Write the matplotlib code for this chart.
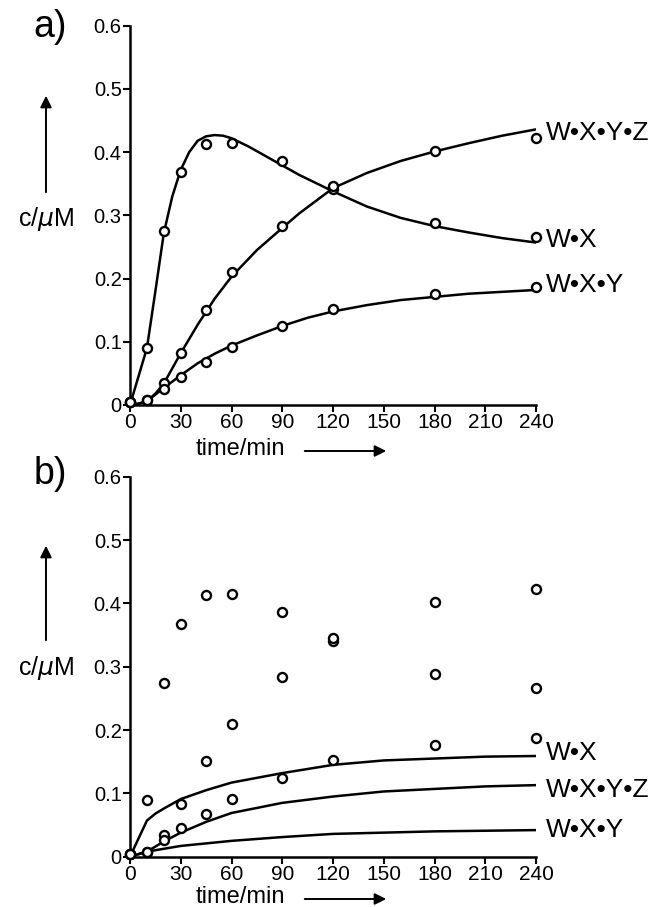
"""
Kinetics of W·X complex assembly: (a) measured points with fitted curves,
(b) the same measured points with the curves of a second model.
"""
import matplotlib
matplotlib.use('Agg')
import matplotlib.pyplot as plt

plt.rcParams.update({
    "font.family": ["Liberation Sans", "DejaVu Sans"],
    "axes.linewidth": 1.8,
    "xtick.major.width": 1.5,
    "ytick.major.width": 1.5,
    "xtick.major.size": 5,
    "ytick.major.size": 5,
})

W_PX, H_PX = 656, 907

# ---- measured points (same in both panels) ----
t_pts = [0, 10, 20, 30, 45, 60, 90, 120, 180, 240]
c_wx = [0.005, 0.090, 0.275, 0.368, 0.413, 0.415, 0.386, 0.341, 0.288, 0.266]
c_wxyz = [0.005, 0.008, 0.035, 0.083, 0.151, 0.210, 0.283, 0.346, 0.402, 0.423]
c_wxy = [0.005, 0.008, 0.026, 0.045, 0.068, 0.091, 0.125, 0.152, 0.176, 0.187]

# ---- panel (a) fitted curves ----
fa_wx_t = [0, 5, 10, 15, 20, 25, 30, 35, 40, 45, 50, 55, 60, 70, 80, 90,
           100, 110, 120, 140, 160, 180, 200, 220, 240]
fa_wx = [0, 0.045, 0.090, 0.180, 0.272, 0.330, 0.372, 0.400, 0.418, 0.425,
         0.427, 0.426, 0.422, 0.409, 0.394, 0.379, 0.364, 0.351, 0.338,
         0.314, 0.296, 0.283, 0.273, 0.264, 0.257]
fa_wxyz_t = [0, 5, 10, 15, 20, 30, 40, 50, 60, 75, 90, 100, 120, 140, 160,
             180, 200, 220, 240]
fa_wxyz = [0, 0.002, 0.006, 0.018, 0.034, 0.082, 0.127, 0.168, 0.203, 0.245,
           0.280, 0.303, 0.343, 0.367, 0.386, 0.401, 0.414, 0.426, 0.436]
fa_wxy_t = [0, 5, 10, 20, 30, 40, 50, 60, 75, 90, 105, 120, 140, 160, 180,
            200, 220, 240]
fa_wxy = [0, 0.002, 0.006, 0.027, 0.047, 0.066, 0.081, 0.094, 0.110, 0.125,
          0.138, 0.148, 0.158, 0.166, 0.171, 0.176, 0.179, 0.182]

# ---- panel (b) model curves ----
fb_wx_t = [0, 10, 15, 20, 30, 45, 60, 90, 120, 150, 180, 210, 240]
fb_wx = [0, 0.057, 0.068, 0.076, 0.091, 0.105, 0.117, 0.132, 0.145, 0.152,
         0.155, 0.158, 0.159]
fb_wxyz_t = [0, 10, 20, 30, 45, 60, 90, 120, 150, 180, 210, 240]
fb_wxyz = [0, 0.008, 0.024, 0.038, 0.055, 0.069, 0.085, 0.095, 0.103, 0.107,
           0.111, 0.113]
fb_wxy_t = [0, 10, 30, 60, 90, 120, 180, 240]
fb_wxy = [0, 0.008, 0.017, 0.025, 0.031, 0.036, 0.040, 0.042]

x_ticks = [0, 30, 60, 90, 120, 150, 180, 210, 240]
y_ticks = [0, 0.1, 0.2, 0.3, 0.4, 0.5, 0.6]
y_ticklabels = ['0', '0.1', '0.2', '0.3', '0.4', '0.5', '0.6']


def fx(px):
    return px / W_PX


def fy(py):
    return 1 - py / H_PX


def style_axes(ax):
    ax.set_xlim(0, 240)
    ax.set_ylim(0, 0.6)
    ax.set_xticks(x_ticks)
    ax.set_xticklabels([str(t) for t in x_ticks], fontsize=15)
    ax.set_yticks(y_ticks)
    ax.set_yticklabels(y_ticklabels, fontsize=14.5)
    ax.tick_params(axis='x', pad=1)
    ax.tick_params(axis='y', pad=1)
    for s in ('top', 'right'):
        ax.spines[s].set_visible(False)


def draw_points(ax):
    for c in (c_wx, c_wxyz, c_wxy):
        ax.plot(t_pts, c, ls='none', marker='o', ms=6.5, mfc='white',
                mec='black', mew=1.7, clip_on=False, zorder=4)


def axis_decor(fig, y_label, y_arrow0, y_arrow1, y_time, letter, y_letter):
    fig.text(fx(50), fy(y_letter), letter, fontsize=27,
             ha='center', va='center')
    fig.text(fx(46), fy(y_label), r'c/$\mu$M', fontsize=18,
             ha='center', va='center')
    fig.add_artist(matplotlib.patches.FancyArrowPatch(
        (fx(46), fy(y_arrow0)), (fx(46), fy(y_arrow1)),
        transform=fig.transFigure, arrowstyle='-|>', mutation_scale=17,
        lw=1.4, color='black'))
    fig.text(fx(240), fy(y_time), 'time/min', fontsize=17,
             ha='center', va='center')
    fig.add_artist(matplotlib.patches.FancyArrowPatch(
        (fx(302), fy(y_time + 2)), (fx(389), fy(y_time + 2)),
        transform=fig.transFigure, arrowstyle='-|>', mutation_scale=17,
        lw=1.4, color='black'))


fig = plt.figure(figsize=(W_PX / 100, H_PX / 100), dpi=100)

# ================= panel (a) =================
ax1 = fig.add_axes([fx(130), fy(405), (536 - 130) / W_PX, (405 - 25.7) / H_PX])
style_axes(ax1)
for t, c in ((fa_wx_t, fa_wx), (fa_wxyz_t, fa_wxyz), (fa_wxy_t, fa_wxy)):
    ax1.plot(t, c, color='black', lw=1.8, zorder=3)
draw_points(ax1)
for y, lab in ((0.431, 'W\u2022X\u2022Y\u2022Z'), (0.261, 'W\u2022X'),
               (0.190, 'W\u2022X\u2022Y')):
    ax1.text(246, y, lab, fontsize=19, ha='left', va='center', clip_on=False)
axis_decor(fig, 219, 195, 93, 449, 'a)', 27)

# ================= panel (b) =================
ax2 = fig.add_axes([fx(130), fy(856.7), (536 - 130) / W_PX, 380 / H_PX])
style_axes(ax2)
for t, c in ((fb_wx_t, fb_wx), (fb_wxyz_t, fb_wxyz), (fb_wxy_t, fb_wxy)):
    ax2.plot(t, c, color='black', lw=1.8, zorder=3)
draw_points(ax2)
for y, lab in ((0.163, 'W\u2022X'), (0.105, 'W\u2022X\u2022Y\u2022Z'),
               (0.042, 'W\u2022X\u2022Y')):
    ax2.text(246, y, lab, fontsize=19, ha='left', va='center', clip_on=False)
axis_decor(fig, 668, 643, 543, 897, 'b)', 474)

fig.savefig('out.png', dpi=100, facecolor='white')
